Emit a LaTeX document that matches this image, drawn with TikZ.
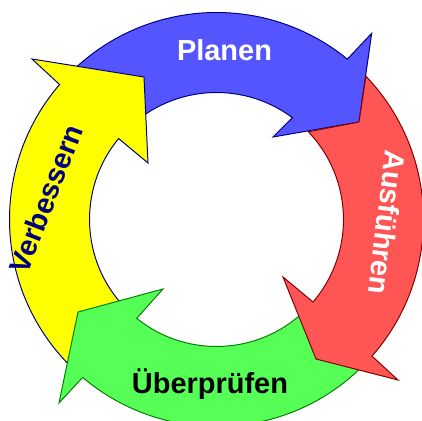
\documentclass[tikz,border=0pt]{standalone}
\usepackage{fontspec}
\setmainfont{Liberation Sans}

\definecolor{blaufill}{RGB}{85,85,255}
\definecolor{rotfill}{RGB}{255,85,85}
\definecolor{gruenfill}{RGB}{85,255,85}
\definecolor{gelbfill}{RGB}{255,255,0}
\definecolor{marine}{RGB}{0,0,128}
\definecolor{dunkelrot}{RGB}{128,0,0}
\definecolor{dunkelgruen}{RGB}{0,128,0}

\begin{document}
\begin{tikzpicture}[
    x=0.025cm, y=0.025cm,
    pfeil/.style={
      line width=0.7pt, line join=miter
    },
    schrift/.style={
      inner sep=0pt, anchor=base,
      font=\bfseries\fontsize{20.6}{24}\selectfont
    }
    ]
  \useasboundingbox (-216.5,-201.5) rectangle (205.5,219.5);
  \clip (-216.5,-201.5) rectangle (205.5,219.5);
  \coordinate (spitze) at (142.5,97.5);
  % Planen
  \filldraw[pfeil, draw=marine, fill=blaufill] (137:207)
    arc[start angle=137, end angle=50.8, radius=207]
    -- (155.2,186.2) -- (spitze) -- (56.5,82.5) -- (53.3:127)
    arc[start angle=53.3, end angle=137, radius=127] -- cycle;
  % Verbessern
  \filldraw[pfeil, draw=marine, fill=gelbfill] (228:207)
    arc[start angle=228, end angle=139.3, radius=207]
    -- (-184.5,160.5) -- (-72.5,142.5) -- (-68.5,56.5) -- (140.4:127)
    arc[start angle=140.4, end angle=228, radius=127] -- cycle;
  % Ueberpruefen
  \filldraw[pfeil, draw=dunkelgruen, fill=gruenfill] (317:207)
    arc[start angle=317, end angle=229.7, radius=207]
    -- (-157.5,-183.5) -- (-138.5,-92.5) -- (-53.5,-69.5) -- (231.1:127)
    arc[start angle=231.1, end angle=317, radius=127] -- cycle;
  % Ausfuehren
  \filldraw[pfeil, draw=dunkelrot, fill=rotfill] (43.8:207)
    arc[start angle=43.8, end angle=-41.3, radius=207]
    -- (181.5,-160.5) -- (99.5,-139.5) -- (66.5,-57.5) -- (-40.5:127)
    arc[start angle=-40.5, end angle=43.7, radius=127] -- (spitze) -- cycle;

  \node[schrift, white] (planen) at (8,158.5) {Planen};
  \node[schrift, white, rotate=-97] (ausfuehren) at (160.5,-2) {Ausführen};
  \node[schrift, black] (ueberpruefen) at (-6.5,-173.5) {Überprüfen};
  \node[schrift, marine, rotate=69] (verbessern) at (-161,17) {Verbessern};
\end{tikzpicture}
\end{document}
